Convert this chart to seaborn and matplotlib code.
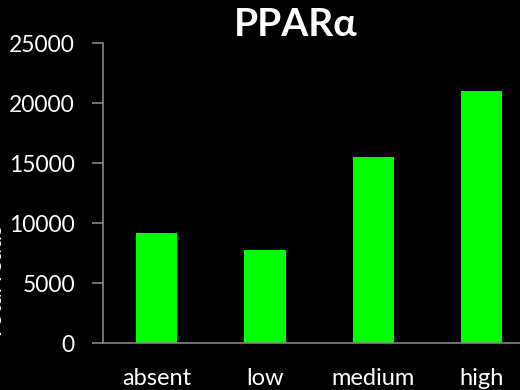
import matplotlib
matplotlib.use("Agg")
import matplotlib.pyplot as plt
from matplotlib.ticker import FixedLocator
import seaborn as sns
import pandas as pd

# PPARα expression by group
categories = ["absent", "low", "medium", "high"]
values = [9200, 7780, 15500, 21000]
y_ticks = [0, 5000, 10000, 15000, 20000, 25000]

df = pd.DataFrame({"group": categories, "value": values})

sns.set_theme(style="white")
plt.rcParams["font.family"] = ["Lato", "DejaVu Sans"]

fig = plt.figure(figsize=(5.2, 3.9), dpi=100, facecolor="black")
# axes runs past the right edge of the canvas
ax = fig.add_axes([102.7 / 520, 47 / 390, 432.8 / 520, 300 / 390])
ax.set_facecolor("black")

sns.barplot(data=df, x="group", y="value", color="#00ff00", saturation=1,
            width=0.38, linewidth=0, edgecolor="none", ax=ax)

axis_grey = "#858585"
ax.set_xlim(-0.5, len(categories) - 0.5)
ax.set_ylim(y_ticks[0], y_ticks[-1])
ax.set_yticks(y_ticks)
ax.set_yticklabels([str(t) for t in y_ticks])

# category boundaries carry the visible x ticks
ax.xaxis.set_minor_locator(FixedLocator([i - 0.5 for i in range(len(categories) + 1)]))
ax.tick_params(axis="x", which="major", length=0, pad=18, labelsize=17, labelcolor="white")
ax.tick_params(axis="x", which="minor", length=8, width=1.2, color=axis_grey, direction="out")
ax.tick_params(axis="y", which="major", length=8, width=1.2, color=axis_grey, direction="out",
               pad=12, labelsize=16.5, labelcolor="white", left=True)

for side in ("top", "right"):
    ax.spines[side].set_visible(False)
for side in ("left", "bottom"):
    ax.spines[side].set_color(axis_grey)
    ax.spines[side].set_linewidth(1.2)

ax.set_xlabel("")
ax.set_ylabel("")

fig.text(296 / 520, 1 - 25 / 390, "PPARα", color="white", fontsize=28,
         fontweight="bold", ha="center", va="center")
fig.text(6 / 520, 50 / 390, "Total reads", color="white", fontsize=17,
         rotation=90, ha="right", va="bottom")

fig.savefig("out.png", dpi=100, facecolor="black")
